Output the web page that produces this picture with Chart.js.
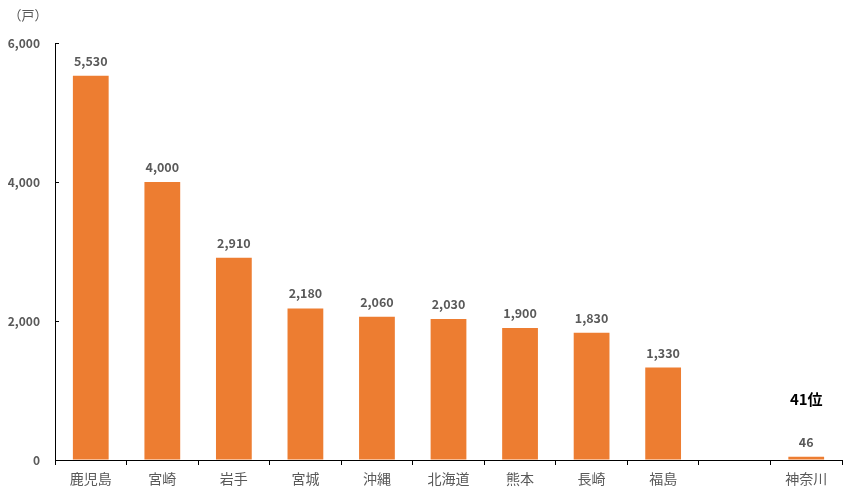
<!DOCTYPE html>
<html><head><meta charset="utf-8">
<script src="https://cdn.jsdelivr.net/npm/chart.js@4"></script>
<style>html,body{margin:0;padding:0;background:#fff;}#wrap{width:858px;height:499px;}</style>
</head><body><div id="wrap"><canvas id="c" width="858" height="499"></canvas></div>
<script>
const categories = ['鹿児島','宮崎','岩手','宮城','沖縄','北海道','熊本','長崎','福島','','神奈川'];
const values = [5530,4000,2910,2180,2060,2030,1900,1830,1330,null,46];
const yTicks = [0,2000,4000,6000];
const unitLabel = '（戸）';
const rankNote = '41位';
const rankIndex = 10;

const FONT = '"Noto Sans CJK JP", "Noto Sans", sans-serif';
const GRAY = '#595959';

const overlay = {
  id: 'overlay',
  afterDatasetsDraw(chart) {
    const ctx = chart.ctx;
    const meta = chart.getDatasetMeta(0);
    const ys = chart.scales.y;
    const xs = chart.scales.x;
    ctx.save();
    ctx.fillStyle = GRAY;
    ctx.font = 'bold 12.5px ' + FONT;
    ctx.textAlign = 'center';
    ctx.textBaseline = 'alphabetic';
    meta.data.forEach((bar, i) => {
      const v = values[i];
      if (v == null) return;
      ctx.fillText(v.toLocaleString('en-US'), bar.x, bar.y - 10);
    });
    ctx.strokeStyle = '#000';
    ctx.lineWidth = 1;
    yTicks.forEach(t => {
      const py = Math.round(ys.getPixelForValue(t)) + 0.5;
      ctx.beginPath();
      ctx.moveTo(xs.left, py);
      ctx.lineTo(xs.left + 4, py);
      ctx.stroke();
    });
    ctx.fillStyle = GRAY;
    ctx.font = '13px ' + FONT;
    ctx.textAlign = 'center';
    ctx.fillText(unitLabel, 28, 20);
    const rb = meta.data[rankIndex];
    ctx.fillStyle = '#000';
    ctx.font = 'bold 15px ' + FONT;
    ctx.fillText(rankNote, rb.x, ys.getPixelForValue(values[rankIndex]) - 52);
    ctx.restore();
  }
};

new Chart(document.getElementById('c'), {
  type: 'bar',
  data: {
    labels: categories,
    datasets: [{
      data: values,
      backgroundColor: '#ED7D31',
      borderWidth: 0,
      categoryPercentage: 1,
      barPercentage: 0.5
    }]
  },
  options: {
    responsive: false,
    animation: false,
    devicePixelRatio: 1,
    layout: { padding: { top: 43, right: 16, left: 0, bottom: 0 } },
    plugins: { legend: { display: false }, tooltip: { enabled: false } },
    scales: {
      x: {
        offset: true,
        grid: { offset: true, drawOnChartArea: false, drawTicks: true, tickLength: 5, color: '#000' },
        border: { display: true, color: '#000', width: 1 },
        ticks: { color: GRAY, font: { family: FONT, size: 14 }, padding: 5, maxRotation: 0, autoSkip: false },
        afterFit(s) { s.height = 39; }
      },
      y: {
        min: 0, max: 6000,
        afterBuildTicks(s) { s.ticks = yTicks.map(v => ({ value: v })); },
        grid: { drawOnChartArea: false, drawTicks: false },
        border: { display: true, color: '#000', width: 1 },
        ticks: {
          color: GRAY, font: { family: FONT, size: 12, weight: 'bold' }, padding: 15,
          callback: v => v.toLocaleString('en-US')
        },
        afterFit(s) { s.width = 55; }
      }
    }
  },
  plugins: [overlay]
});
</script>
</body></html>
